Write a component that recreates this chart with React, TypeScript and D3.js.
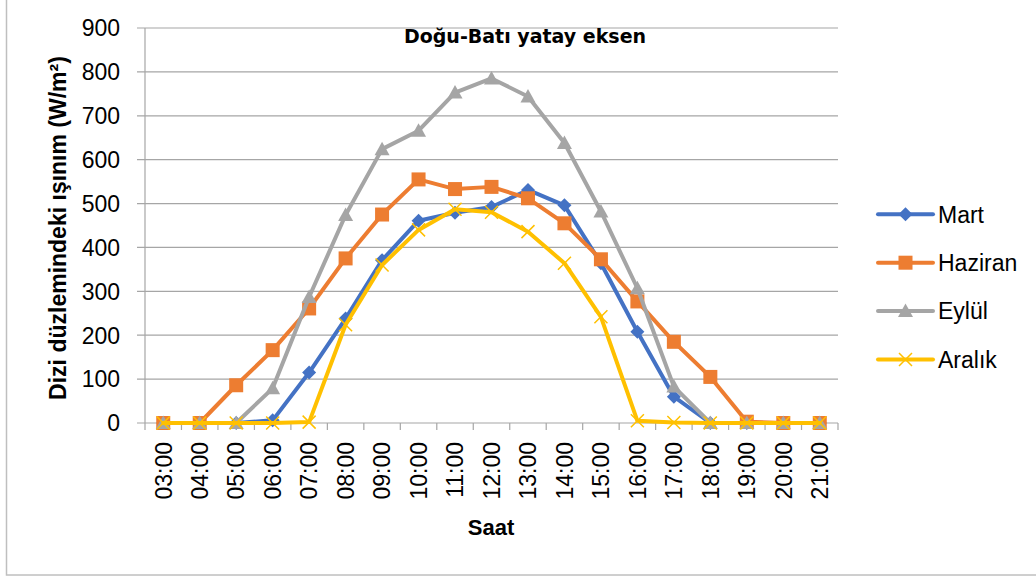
import React from "react";
import * as d3 from "d3";

const hours = ["03:00","04:00","05:00","06:00","07:00","08:00","09:00","10:00","11:00","12:00","13:00","14:00","15:00","16:00","17:00","18:00","19:00","20:00","21:00"];
const mart = [0,0,0,6,115,238,371,461,479,492,531,496,364,208,60,0,0,0,0];
const haziran = [0,0,86,166,261,375,475,555,533,538,512,455,373,277,185,105,3,0,0];
const eylul = [0,0,0,79,287,474,624,666,753,785,744,638,482,307,83,0,0,0,0];
const aralik = [0,0,0,0,2,224,360,440,487,480,436,364,242,5,1,0,0,0,0];
const yTicks = [0,100,200,300,400,500,600,700,800,900];

const seriesNames = ["Mart","Haziran","Eylül","Aralık"];
const seriesValues = [mart, haziran, eylul, aralik];
const seriesColors = ["#4472C4","#ED7D31","#A5A5A5","#FFC000"];
const seriesMarkers = ["diamond","square","triangle","x"];

const W = 1036, H = 579;
const plot = { left: 145, right: 838, top: 28, bottom: 423 };

function Marker({ type, x, y, color }: { type: string; x: number; y: number; color: string }) {
  if (type === "diamond") {
    const r = 7;
    return <path d={`M${x},${y - r}L${x + r},${y}L${x},${y + r}L${x - r},${y}Z`} fill={color} />;
  }
  if (type === "square") {
    const s = 7;
    return <rect x={x - s} y={y - s} width={2 * s} height={2 * s} fill={color} />;
  }
  if (type === "triangle") {
    const r = 7.5;
    return <path d={`M${x},${y - r}L${x + r},${y + r * 0.8}L${x - r},${y + r * 0.8}Z`} fill={color} />;
  }
  const r = 6.5;
  return (
    <path d={`M${x - r},${y - r}L${x + r},${y + r}M${x - r},${y + r}L${x + r},${y - r}`} stroke={color} strokeWidth={1.5} fill="none" />
  );
}

export default function App() {
  const x = d3.scaleBand<string>().domain(hours).range([plot.left, plot.right]);
  const y = d3.scaleLinear().domain([0, 900]).range([plot.bottom, plot.top]);
  const cx = (h: string) => (x(h) as number) + x.bandwidth() / 2;
  const line = d3
    .line<number>()
    .x((_, i) => cx(hours[i]))
    .y((v) => y(v));

  const bounds = hours.map((h) => x(h) as number).concat([plot.right]);
  const gridColor = "#a6a6a6";
  const tickFont = "'Liberation Sans', Arial, sans-serif";

  return (
    <svg width={W} height={H} style={{ position: "absolute", left: 0, top: 0, background: "#fff" }}>
      <rect x={6.5} y={-2} width={1040} height={577} fill="#fff" stroke="#bfbfbf" strokeWidth={1.5} />
      {yTicks.map((t) => (
        <g key={t}>
          <line x1={plot.left - 8} x2={plot.right} y1={y(t)} y2={y(t)} stroke={gridColor} strokeWidth={1.2} />
          <text x={120} y={y(t)} dy="0.36em" textAnchor="end" fontFamily={tickFont} fontSize={23} fill="#000">
            {t}
          </text>
        </g>
      ))}
      <line x1={plot.left} x2={plot.left} y1={plot.top} y2={plot.bottom} stroke={gridColor} strokeWidth={1.2} />
      {bounds.map((b, i) => (
        <line key={i} x1={b} x2={b} y1={plot.bottom} y2={plot.bottom + 7} stroke={gridColor} strokeWidth={1.2} />
      ))}
      {hours.map((h) => (
        <text
          key={h}
          transform={`translate(${cx(h)},442) rotate(-90)`}
          dy="0.36em"
          textAnchor="end"
          fontFamily={tickFont}
          fontSize={23}
          fill="#000"
        >
          {h}
        </text>
      ))}
      {seriesValues.map((vals, si) => (
        <g key={si}>
          <path d={line(vals) || ""} fill="none" stroke={seriesColors[si]} strokeWidth={4} strokeLinejoin="round" strokeLinecap="round" />
          {vals.map((v, i) => (
            <Marker key={i} type={seriesMarkers[si]} x={cx(hours[i])} y={y(v)} color={seriesColors[si]} />
          ))}
        </g>
      ))}
      <text x={525} y={43} textAnchor="middle" fontFamily="'DejaVu Sans', sans-serif" fontWeight="bold" fontSize={19} fill="#000">
        Doğu-Batı yatay eksen
      </text>
      <text x={491} y={535} textAnchor="middle" fontFamily={tickFont} fontWeight="bold" fontSize={22} fill="#000">
        Saat
      </text>
      <text
        transform={`translate(65.5,228) rotate(-90)`}
        textAnchor="middle"
        fontFamily={tickFont}
        fontWeight="bold"
        fontSize={23}
        fill="#000"
      >
        Dizi düzlemindeki ışınım (W/m²)
      </text>
      {seriesNames.map((n, i) => {
        const ly = 214.3 + i * 48.4;
        return (
          <g key={n}>
            <line x1={878} x2={933} y1={ly} y2={ly} stroke={seriesColors[i]} strokeWidth={4} strokeLinecap="round" />
            <Marker type={seriesMarkers[i]} x={905.5} y={ly} color={seriesColors[i]} />
            <text x={938} y={ly} dy="0.36em" fontFamily={tickFont} fontSize={23} fill="#000">
              {n}
            </text>
          </g>
        );
      })}
    </svg>
  );
}
